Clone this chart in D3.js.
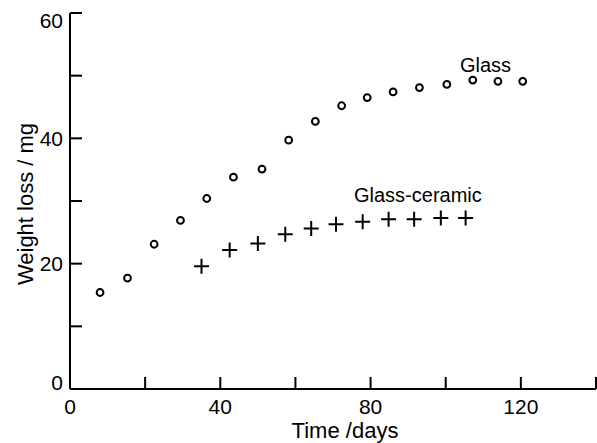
<!DOCTYPE html>
<html>
<head>
<meta charset="utf-8">
<script src="https://cdn.jsdelivr.net/npm/d3@7"></script>
<style>
  body { margin: 0; background: #fff; }
  text { font-family: "Liberation Sans", Arial, sans-serif; fill: #000; }
</style>
</head>
<body>
<div id="chart"></div>
<script>
// weekly weight loss readings
const glassDays = [8, 15.3, 22.4, 29.4, 36.4, 43.5, 51.1, 58.2, 65.3, 72.3, 79.1, 86, 93, 100.3, 107.2, 113.9, 120.5];
const glassLoss = [15.4, 17.7, 23.1, 26.9, 30.4, 33.8, 35.1, 39.7, 42.7, 45.2, 46.5, 47.4, 48.1, 48.6, 49.3, 49.1, 49.1];

const ceramicDays = [35, 42.5, 50, 57.3, 64.2, 70.8, 77.9, 84.8, 91.6, 98.7, 105.3];
const ceramicLoss = [19.6, 22.2, 23.2, 24.7, 25.6, 26.3, 26.7, 27.1, 27.1, 27.3, 27.3];

const xTicks = [0, 20, 40, 60, 80, 100, 120, 140];
const xLabels = [0, 40, 80, 120];
const yTicks = [0, 10, 20, 30, 40, 50, 60];
const yLabels = [0, 20, 40, 60];

const width = 597, height = 443;

let svg = d3.select("#chart")
    .append("svg")
    .attr("width", width)
    .attr("height", height);

let x = d3.scaleLinear().domain([0, 140]).range([70, 596]);
let y = d3.scaleLinear().domain([0, 60]).range([389, 13]);

// axes: plain lines with inward ticks
let ax = svg.append("g").attr("stroke", "#000").attr("stroke-width", 2);
ax.append("line")
    .attr("x1", x(0)).attr("x2", x(0))
    .attr("y1", y(0)).attr("y2", y(60));
ax.append("line")
    .attr("x1", x(0)).attr("x2", x(140))
    .attr("y1", y(0)).attr("y2", y(0));

ax.selectAll(".yt")
    .data(yTicks.filter(d => d > 0))
    .enter().append("line")
    .attr("x1", x(0)).attr("x2", x(0) + 12)
    .attr("y1", d => y(d)).attr("y2", d => y(d));

ax.selectAll(".xt")
    .data(xTicks.filter(d => d > 0))
    .enter().append("line")
    .attr("x1", d => x(d)).attr("x2", d => x(d))
    .attr("y1", y(0)).attr("y2", y(0) - 12);

svg.selectAll(".yl")
    .data(yLabels)
    .enter().append("text")
    .attr("x", 63)
    .attr("y", d => y(d))
    .attr("dy", d => d == 60 ? "0.72em" : (d == 0 ? "0.05em" : "0.36em"))
    .attr("text-anchor", "end")
    .attr("font-size", 21)
    .text(d => d);

svg.selectAll(".xl")
    .data(xLabels)
    .enter().append("text")
    .attr("x", d => x(d))
    .attr("y", 414)
    .attr("text-anchor", "middle")
    .attr("font-size", 21)
    .text(d => d);

svg.append("text")
    .attr("x", 345).attr("y", 438)
    .attr("text-anchor", "middle")
    .attr("font-size", 22)
    .text("Time /days");

svg.append("text")
    .attr("transform", "translate(33,204) rotate(-90)")
    .attr("text-anchor", "middle")
    .attr("font-size", 22)
    .text("Weight loss / mg");

// glass: open circles
svg.selectAll(".glass")
    .data(glassDays.map((d, i) => [d, glassLoss[i]]))
    .enter().append("circle")
    .attr("cx", d => x(d[0]))
    .attr("cy", d => y(d[1]))
    .attr("r", 3.4)
    .attr("fill", "none")
    .attr("stroke", "#000")
    .attr("stroke-width", 2);

// glass-ceramic: plus signs
svg.selectAll(".ceramic")
    .data(ceramicDays.map((d, i) => [d, ceramicLoss[i]]))
    .enter().append("path")
    .attr("d", d3.symbol().type({
        draw: (ctx, s) => { ctx.moveTo(-7.5, 0); ctx.lineTo(7.5, 0); ctx.moveTo(0, -7.5); ctx.lineTo(0, 7.5); }
    }))
    .attr("transform", d => `translate(${x(d[0])},${y(d[1])})`)
    .attr("fill", "none")
    .attr("stroke", "#000")
    .attr("stroke-width", 2);

svg.append("text")
    .attr("x", 460).attr("y", 72)
    .attr("font-size", 20)
    .text("Glass");

svg.append("text")
    .attr("x", 354).attr("y", 202)
    .attr("font-size", 20)
    .text("Glass-ceramic");
</script>
</body>
</html>
